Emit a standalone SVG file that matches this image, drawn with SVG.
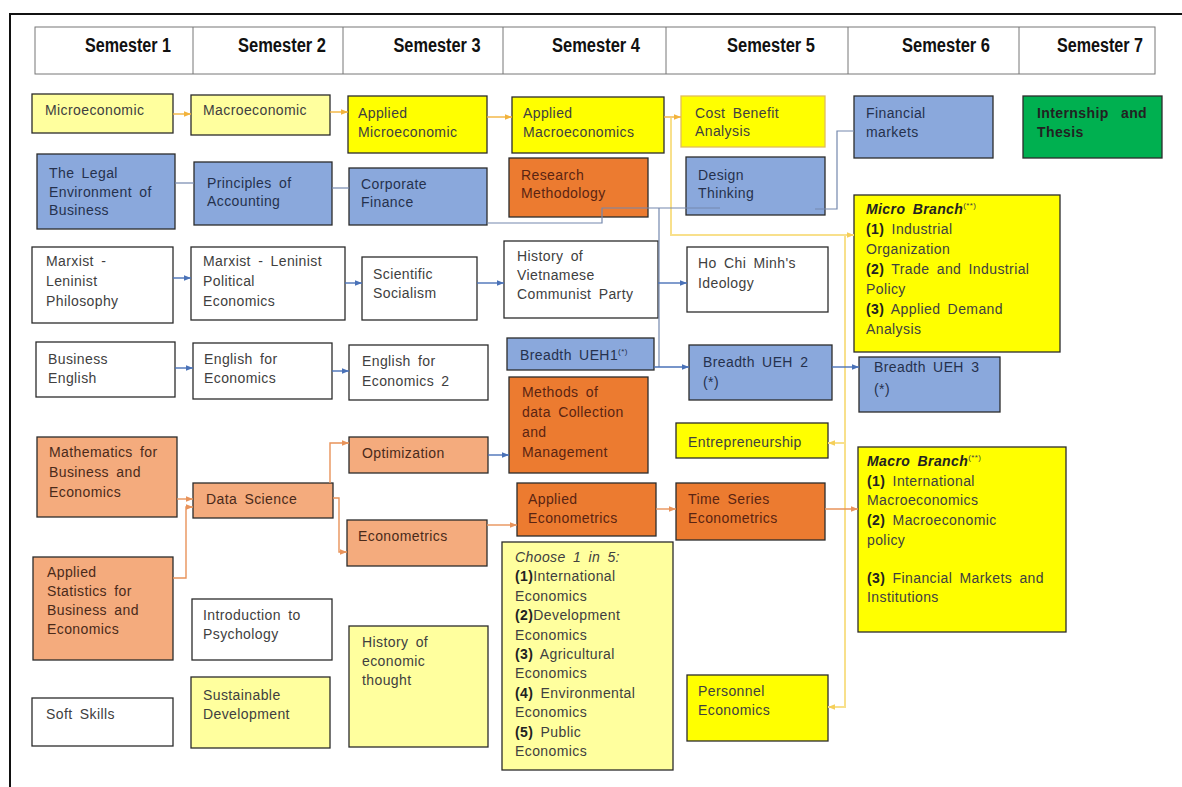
<svg xmlns="http://www.w3.org/2000/svg" width="1182" height="787" viewBox="0 0 1182 787">
<defs>
<style>
.t{font-family:"Liberation Sans",Arial,sans-serif;font-size:14px;fill:#404040;letter-spacing:0.4px;word-spacing:3px}
.hd{font-family:"Liberation Sans",Arial,sans-serif;font-size:20px;font-weight:bold;fill:#111}
.b{stroke:#2b2b2b;stroke-width:1.3}
.ly{fill:#FFFF9E}
.by{fill:#FFFF00}
.bl{fill:#8AA8DC}
.or{fill:#EC7B30}
.lo{fill:#F4AB7D}
.wh{fill:#FFFFFF}
.gr{fill:#00B050}
.tb{fill:#25314d}
.to{fill:#5a2412}
.tl{fill:#4a2a1a}
.bo{font-weight:bold;fill:#222}
.c{fill:none;stroke-width:1.4}
.cy{stroke:#F2B33D}
.cb{stroke:#4A72B8}
.co{stroke:#E8935A}
.cg{stroke:#7488ad;stroke-width:1.2}
.cp{stroke:#F8E08C;stroke-width:2}
</style>
<marker id="ay" viewBox="0 0 10 10" refX="10" refY="5" markerWidth="7" markerHeight="7" orient="auto" markerUnits="userSpaceOnUse"><path d="M0,1 L10,5 L0,9 z" fill="#F2B33D"/></marker>
<marker id="ab" viewBox="0 0 10 10" refX="10" refY="5" markerWidth="7" markerHeight="7" orient="auto" markerUnits="userSpaceOnUse"><path d="M0,1 L10,5 L0,9 z" fill="#4A72B8"/></marker>
<marker id="ao" viewBox="0 0 10 10" refX="10" refY="5" markerWidth="7" markerHeight="7" orient="auto" markerUnits="userSpaceOnUse"><path d="M0,1 L10,5 L0,9 z" fill="#E8935A"/></marker>
<marker id="ap" viewBox="0 0 10 10" refX="10" refY="5" markerWidth="7" markerHeight="7" orient="auto" markerUnits="userSpaceOnUse"><path d="M0,1 L10,5 L0,9 z" fill="#F5CF5A"/></marker>
</defs>
<rect x="0" y="0" width="1182" height="787" fill="#FFFFFF"/>
<path d="M10,787 L10,14 L1182,14" fill="none" stroke="#111" stroke-width="2"/>

<g id="header">
<rect x="35" y="27" width="1120" height="47" fill="#fff" stroke="#777" stroke-width="1"/>
<path d="M193,27V74M343,27V74M503,27V74M666,27V74M848,27V74M1019,27V74" stroke="#777" stroke-width="1"/>
<text class="hd" x="128" y="52" text-anchor="middle" textLength="86" lengthAdjust="spacingAndGlyphs">Semester 1</text>
<text class="hd" x="282" y="52" text-anchor="middle" textLength="88" lengthAdjust="spacingAndGlyphs">Semester 2</text>
<text class="hd" x="437" y="52" text-anchor="middle" textLength="87" lengthAdjust="spacingAndGlyphs">Semester 3</text>
<text class="hd" x="596" y="52" text-anchor="middle" textLength="88" lengthAdjust="spacingAndGlyphs">Semester 4</text>
<text class="hd" x="771" y="52" text-anchor="middle" textLength="88" lengthAdjust="spacingAndGlyphs">Semester 5</text>
<text class="hd" x="946" y="52" text-anchor="middle" textLength="88" lengthAdjust="spacingAndGlyphs">Semester 6</text>
<text class="hd" x="1100" y="52" text-anchor="middle" textLength="86" lengthAdjust="spacingAndGlyphs">Semester 7</text>
</g>

<g id="microeconomic"><rect class="b ly" x="32" y="94" width="141" height="39"/><text class="t" x="45" y="115">Microeconomic</text></g>
<g id="macroeconomic"><rect class="b ly" x="191" y="95" width="139" height="40"/><text class="t" x="203" y="115">Macroeconomic</text></g>
<g id="applied-micro"><rect class="b by" x="348" y="96" width="139" height="57"/><text class="t" x="358"><tspan x="358" y="118">Applied</tspan><tspan x="358" y="137">Microeconomic</tspan></text></g>
<g id="applied-macro"><rect class="b by" x="512" y="97" width="152" height="56"/><text class="t" x="523"><tspan x="523" y="118">Applied</tspan><tspan x="523" y="137">Macroeconomics</tspan></text></g>
<g id="cost-benefit"><rect class="by" x="681" y="96" width="144" height="51" stroke="#E0BE5A" stroke-width="1.3"/><text class="t" x="695"><tspan x="695" y="118">Cost Benefit</tspan><tspan x="695" y="136">Analysis</tspan></text></g>
<g id="financial-markets"><rect class="b bl" x="854" y="96" width="139" height="62"/><text class="t tb" x="866"><tspan x="866" y="118">Financial</tspan><tspan x="866" y="137">markets</tspan></text></g>
<g id="internship"><rect class="b gr" x="1023" y="96" width="139" height="62"/><text class="t bo" x="1037" font-size="13"><tspan x="1037" y="118" word-spacing="8">Internship and</tspan><tspan x="1037" y="137">Thesis</tspan></text></g>

<g id="legal"><rect class="b bl" x="37" y="154" width="138" height="75"/><text class="t tb"><tspan x="49" y="178">The Legal</tspan><tspan x="49" y="197">Environment of</tspan><tspan x="49" y="215">Business</tspan></text></g>
<g id="accounting"><rect class="b bl" x="194" y="162" width="138" height="63"/><text class="t tb"><tspan x="207" y="188">Principles of</tspan><tspan x="207" y="206">Accounting</tspan></text></g>
<g id="corporate-finance"><rect class="b bl" x="349" y="168" width="138" height="57"/><text class="t tb"><tspan x="361" y="189">Corporate</tspan><tspan x="361" y="207">Finance</tspan></text></g>
<g id="research-methodology"><rect class="b or" x="509" y="158" width="139" height="59"/><text class="t to"><tspan x="521" y="180">Research</tspan><tspan x="521" y="198">Methodology</tspan></text></g>
<g id="design-thinking"><rect class="b bl" x="686" y="157" width="139" height="58"/><text class="t tb"><tspan x="698" y="180">Design</tspan><tspan x="698" y="198">Thinking</tspan></text></g>

<g id="micro-branch"><rect class="b by" x="854" y="195" width="206" height="157"/>
<text class="t" x="866" y="214"><tspan class="bo" font-style="italic">Micro Branch</tspan><tspan font-size="8" dy="-6">(**)</tspan></text>
<text class="t" x="866" y="234"><tspan class="bo">(1)</tspan> Industrial</text>
<text class="t" x="866" y="254">Organization</text>
<text class="t" x="866" y="274"><tspan class="bo">(2)</tspan> Trade and Industrial</text>
<text class="t" x="866" y="294">Policy</text>
<text class="t" x="866" y="314"><tspan class="bo">(3)</tspan> Applied Demand</text>
<text class="t" x="866" y="334">Analysis</text>
</g>

<g id="ml-philosophy"><rect class="b wh" x="32" y="247" width="141" height="76"/><text class="t"><tspan x="46" y="266">Marxist -</tspan><tspan x="46" y="286">Leninist</tspan><tspan x="46" y="306">Philosophy</tspan></text></g>
<g id="ml-political"><rect class="b wh" x="191" y="247" width="154" height="73"/><text class="t"><tspan x="203" y="266">Marxist - Leninist</tspan><tspan x="203" y="286">Political</tspan><tspan x="203" y="306">Economics</tspan></text></g>
<g id="scientific-socialism"><rect class="b wh" x="362" y="257" width="115" height="63"/><text class="t"><tspan x="373" y="279">Scientific</tspan><tspan x="373" y="298">Socialism</tspan></text></g>
<g id="history-vcp"><rect class="b wh" x="504" y="241" width="154" height="77"/><text class="t"><tspan x="517" y="261">History of</tspan><tspan x="517" y="280">Vietnamese</tspan><tspan x="517" y="299">Communist Party</tspan></text></g>
<g id="ho-chi-minh"><rect class="b wh" x="687" y="247" width="141" height="65"/><text class="t"><tspan x="698" y="268">Ho Chi Minh's</tspan><tspan x="698" y="288">Ideology</tspan></text></g>

<g id="business-english"><rect class="b wh" x="36" y="342" width="139" height="55"/><text class="t"><tspan x="48" y="364">Business</tspan><tspan x="48" y="383">English</tspan></text></g>
<g id="english-economics"><rect class="b wh" x="193" y="343" width="139" height="56"/><text class="t"><tspan x="204" y="364">English for</tspan><tspan x="204" y="383">Economics</tspan></text></g>
<g id="english-economics-2"><rect class="b wh" x="349" y="345" width="139" height="55"/><text class="t"><tspan x="362" y="366">English for</tspan><tspan x="362" y="386">Economics 2</tspan></text></g>
<g id="breadth-1"><rect class="b bl" x="507" y="338" width="147" height="32"/><text class="t tb" x="520" y="360">Breadth UEH1<tspan font-size="8" dy="-6">(*)</tspan></text></g>
<g id="breadth-2"><rect class="b bl" x="689" y="345" width="143" height="55"/><text class="t tb"><tspan x="703" y="367">Breadth UEH 2</tspan><tspan x="703" y="387">(*)</tspan></text></g>
<g id="breadth-3"><rect class="b bl" x="859" y="357" width="141" height="55"/><text class="t tb"><tspan x="874" y="372">Breadth UEH 3</tspan><tspan x="874" y="394">(*)</tspan></text></g>

<g id="methods-data"><rect class="b or" x="509" y="377" width="139" height="96"/><text class="t to"><tspan x="522" y="397">Methods of</tspan><tspan x="522" y="417">data Collection</tspan><tspan x="522" y="437">and</tspan><tspan x="522" y="457">Management</tspan></text></g>
<g id="entrepreneurship"><rect class="b by" x="676" y="423" width="152" height="35"/><text class="t" x="688" y="447">Entrepreneurship</text></g>

<g id="mathematics"><rect class="b lo" x="37" y="437" width="140" height="80"/><text class="t tl"><tspan x="49" y="457">Mathematics for</tspan><tspan x="49" y="477">Business and</tspan><tspan x="49" y="497">Economics</tspan></text></g>
<g id="data-science"><rect class="b lo" x="193" y="483" width="140" height="35"/><text class="t tl" x="206" y="504">Data Science</text></g>
<g id="optimization"><rect class="b lo" x="349" y="437" width="139" height="36"/><text class="t tl" x="362" y="458">Optimization</text></g>
<g id="econometrics"><rect class="b lo" x="347" y="520" width="140" height="46"/><text class="t tl" x="358" y="541">Econometrics</text></g>
<g id="applied-econometrics"><rect class="b or" x="517" y="483" width="139" height="53"/><text class="t to"><tspan x="528" y="504">Applied</tspan><tspan x="528" y="523">Econometrics</tspan></text></g>
<g id="time-series"><rect class="b or" x="676" y="483" width="149" height="57"/><text class="t to"><tspan x="688" y="504">Time Series</tspan><tspan x="688" y="523">Econometrics</tspan></text></g>

<g id="macro-branch"><rect class="b by" x="858" y="447" width="208" height="185"/>
<text class="t" x="867" y="466"><tspan class="bo" font-style="italic">Macro Branch</tspan><tspan font-size="8" dy="-6">(**)</tspan></text>
<text class="t" x="867" y="486"><tspan class="bo">(1)</tspan> International</text>
<text class="t" x="867" y="505">Macroeconomics</text>
<text class="t" x="867" y="525"><tspan class="bo">(2)</tspan> Macroeconomic</text>
<text class="t" x="867" y="545">policy</text>
<text class="t" x="867" y="583"><tspan class="bo">(3)</tspan> Financial Markets and</text>
<text class="t" x="867" y="602">Institutions</text>
</g>

<g id="choose-1-in-5"><rect class="b ly" x="502" y="542" width="171" height="228"/>
<text class="t" x="515" y="562" font-style="italic">Choose 1 in 5:</text>
<text class="t" x="515" y="581"><tspan class="bo">(1)</tspan>International</text>
<text class="t" x="515" y="601">Economics</text>
<text class="t" x="515" y="620"><tspan class="bo">(2)</tspan>Development</text>
<text class="t" x="515" y="640">Economics</text>
<text class="t" x="515" y="659"><tspan class="bo">(3)</tspan> Agricultural</text>
<text class="t" x="515" y="678">Economics</text>
<text class="t" x="515" y="698"><tspan class="bo">(4)</tspan> Environmental</text>
<text class="t" x="515" y="717">Economics</text>
<text class="t" x="515" y="737"><tspan class="bo">(5)</tspan> Public</text>
<text class="t" x="515" y="756">Economics</text>
</g>

<g id="applied-statistics"><rect class="b lo" x="33" y="557" width="140" height="103"/><text class="t tl"><tspan x="47" y="577">Applied</tspan><tspan x="47" y="596">Statistics for</tspan><tspan x="47" y="615">Business and</tspan><tspan x="47" y="634">Economics</tspan></text></g>
<g id="psychology"><rect class="b wh" x="192" y="599" width="140" height="61"/><text class="t"><tspan x="203" y="620">Introduction to</tspan><tspan x="203" y="639">Psychology</tspan></text></g>
<g id="soft-skills"><rect class="b wh" x="32" y="698" width="141" height="48"/><text class="t" x="46" y="719">Soft Skills</text></g>
<g id="sustainable"><rect class="b ly" x="191" y="677" width="139" height="71"/><text class="t"><tspan x="203" y="700">Sustainable</tspan><tspan x="203" y="719">Development</tspan></text></g>
<g id="history-thought"><rect class="b ly" x="349" y="626" width="139" height="121"/><text class="t"><tspan x="362" y="647">History of</tspan><tspan x="362" y="666">economic</tspan><tspan x="362" y="685">thought</tspan></text></g>
<g id="personnel"><rect class="b by" x="687" y="675" width="141" height="66"/><text class="t"><tspan x="698" y="696">Personnel</tspan><tspan x="698" y="715">Economics</tspan></text></g>

<g id="connectors">
<path class="c cy" d="M173,114H191" marker-end="url(#ay)"/>
<path class="c cy" d="M330,112H348" marker-end="url(#ay)"/>
<path class="c cy" d="M487,117H512" marker-end="url(#ay)"/>
<path class="c cy" d="M664,117H681" marker-end="url(#ay)"/>
<path class="c cp" d="M671,118V235H854" marker-end="url(#ap)"/>
<path class="c cp" d="M845,235V707H828" marker-end="url(#ap)"/>
<path class="c cp" d="M845,443H828" marker-end="url(#ap)"/>
<path class="c cg" d="M175,183H194"/>
<path class="c cg" d="M332,188H349"/>
<path class="c cg" d="M487,223H602V208H720"/>
<path class="c cg" d="M659,208V367"/>
<path class="c cg" d="M815,209H837V131H854"/>
<path class="c cb" d="M173,278H191" marker-end="url(#ab)"/>
<path class="c cb" d="M345,283H362" marker-end="url(#ab)"/>
<path class="c cb" d="M477,283H504" marker-end="url(#ab)"/>
<path class="c cb" d="M658,283H687" marker-end="url(#ab)"/>
<path class="c cb" d="M175,368H193" marker-end="url(#ab)"/>
<path class="c cb" d="M332,371H349" marker-end="url(#ab)"/>
<path class="c cb" d="M654,367H689" marker-end="url(#ab)"/>
<path class="c cb" d="M832,367H859" marker-end="url(#ab)"/>
<path class="c cb" d="M488,455H509" marker-end="url(#ab)"/>
<path class="c co" d="M177,499H193" marker-end="url(#ao)"/>
<path class="c co" d="M173,578H186V507H193" marker-end="url(#ao)"/>
<path class="c co" d="M330,483V443H349" marker-end="url(#ao)"/>
<path class="c co" d="M333,498H339V552H347" marker-end="url(#ao)"/>
<path class="c co" d="M487,525H517" marker-end="url(#ao)"/>
<path class="c co" d="M656,509H676" marker-end="url(#ao)"/>
<path class="c co" d="M825,509H858" marker-end="url(#ao)"/>
</g>
</svg>
